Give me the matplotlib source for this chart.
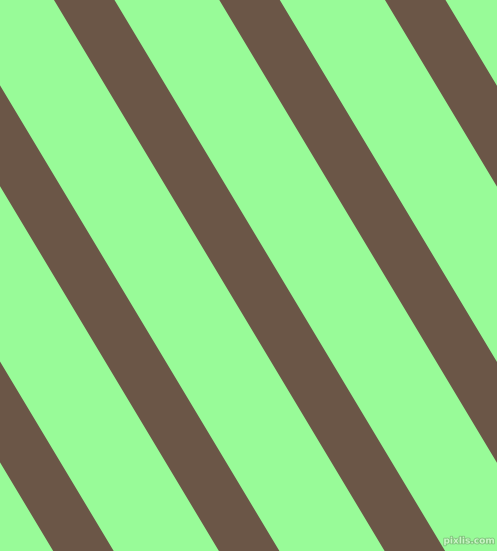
import matplotlib
matplotlib.use("Agg")
import matplotlib.pyplot as plt
from matplotlib import patheffects

# picture size in pixels
width_px = 497
height_px = 551

# where the left edge of each brown stripe crosses the top row (px)
stripe_starts = [-277.4, -111.7, 54.0, 219.3, 385.0]
stripe_width = 60.5     # horizontal width of one stripe
stripe_slope = 0.6      # dx / dy of the stripe edges

background_color = "#98fb98"
stripe_color = "#6b5647"

fig = plt.figure(figsize=(width_px / 100, height_px / 100), dpi=100)
ax = fig.add_axes([0, 0, 1, 1])
ax.set_facecolor(background_color)
ax.set_xlim(0, width_px)
ax.set_ylim(height_px, 0)
ax.axis("off")
fig.patch.set_facecolor(background_color)

shift = stripe_slope * height_px
for start in stripe_starts:
    xs = [start, start + stripe_width, start + stripe_width + shift, start + shift]
    ys = [0, 0, height_px, height_px]
    ax.fill(xs, ys, color=stripe_color, linewidth=0, antialiased=True)

# small watermark in the bottom right corner
ax.text(469, 541, "pixlis.com", fontsize=6.5, fontweight="bold", color="#c9f7c5",
        ha="center", va="center", family="DejaVu Sans",
        path_effects=[patheffects.withStroke(linewidth=1.2, foreground="#7fc27b")])

fig.savefig("out.png", dpi=100, facecolor=background_color)
